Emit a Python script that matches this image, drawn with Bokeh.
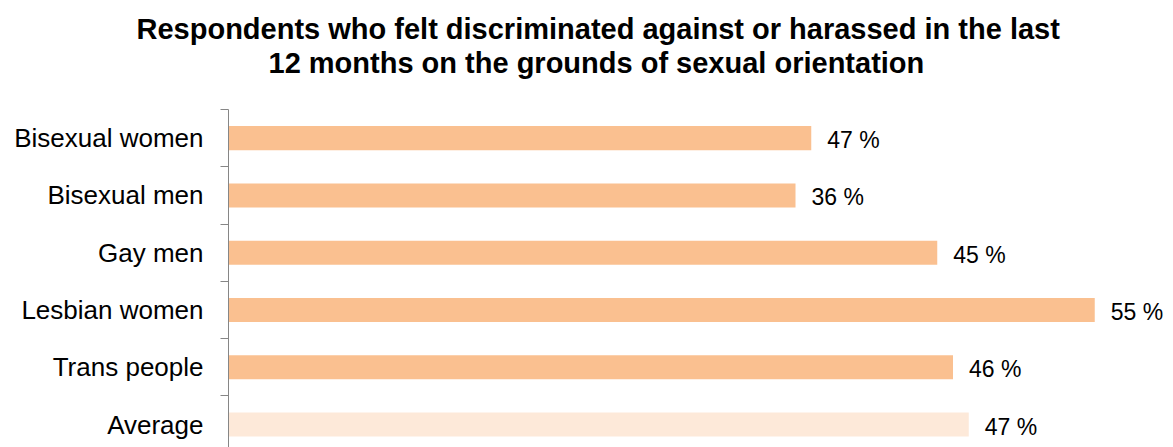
from bokeh.plotting import figure
from bokeh.models import ColumnDataSource, Range1d, FixedTicker, Title
from bokeh.core.properties import value
from bokeh.embed import file_html
from bokeh.resources import INLINE

# ---- data ----
categories = ["Bisexual women", "Bisexual men", "Gay men", "Lesbian women", "Trans people", "Average"]
bar_values = [37, 36, 45, 55, 46, 47]          # bar lengths as drawn
value_labels = ["47 %", "36 %", "45 %", "55 %", "46 %", "47 %"]  # printed labels
bar_colors = ["#FAC090", "#FAC090", "#FAC090", "#FAC090", "#FAC090", "#FDE9D9"]
title_lines = ["Respondents who felt discriminated against or harassed in the last",
               "12 months on the grounds of sexual orientation"]

FONT = "Liberation Sans"
positions = list(range(len(categories)))

src = ColumnDataSource(dict(y=positions, v=bar_values, lab=value_labels, col=bar_colors))

p = figure(width=1173, height=447, output_backend="svg", toolbar_location=None,
           x_range=Range1d(0, 60), y_range=Range1d(5.40, -0.5),
           x_axis_location=None, min_border_left=228, min_border_right=0,
           min_border_bottom=0, min_border_top=109)
p.outline_line_color = None
p.xgrid.visible = False
p.ygrid.visible = False
p.background_fill_color = "white"
p.border_fill_color = "white"

p.hbar(y="y", left=0, right="v", height=0.42, fill_color="col", line_color=None, source=src)
p.text(x="v", y="y", text="lab", source=src, x_offset=16, y_offset=2,
       text_align="left", text_baseline="middle", text_font=value(FONT),
       text_font_size="23px", text_color="#000000")

ax = p.yaxis[0]
ax.ticker = FixedTicker(ticks=positions, minor_ticks=[i - 0.5 for i in range(len(categories) + 1)])
ax.major_label_overrides = {i: c for i, c in enumerate(categories)}
ax.major_tick_out = 0
ax.major_tick_in = 0
ax.minor_tick_out = 8
ax.minor_tick_in = 0
ax.minor_tick_line_color = "#868686"
ax.axis_line_color = "#868686"
ax.axis_line_width = 1
ax.major_label_standoff = 17
ax.major_label_text_font = FONT
ax.major_label_text_font_size = "26px"
ax.major_label_text_color = "#000000"

# spacer between the plot and the title block
p.add_layout(Title(text=" ", text_font_size="1px", standoff=28), "above")
# title lines (bottom line first so it sits closest to the plot)
p.add_layout(Title(text=title_lines[1], align="left", offset=40, text_font=FONT,
                   text_font_size="29px", text_font_style="bold", text_color="#000000",
                   standoff=0), "above")
p.add_layout(Title(text=title_lines[0], align="left", offset=-92, text_font=FONT,
                   text_font_size="29px", text_font_style="bold", text_color="#000000",
                   standoff=0), "above")

open("out.html", "w").write(file_html(p, INLINE))
